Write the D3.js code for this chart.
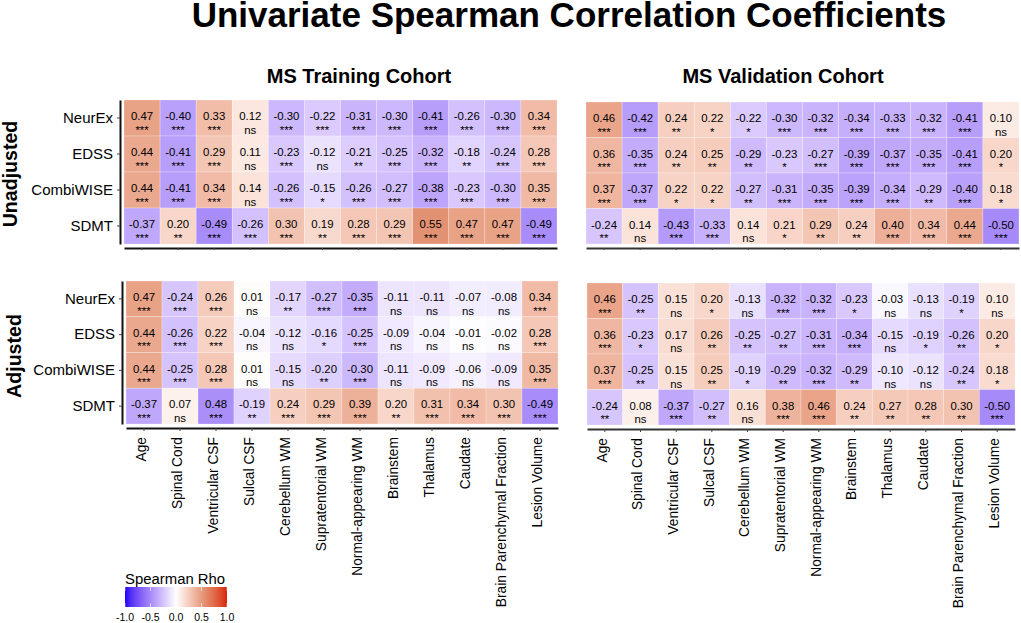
<!DOCTYPE html>
<html>
<head>
<meta charset="utf-8">
<script src="https://d3js.org/d3.v7.min.js"></script>
<style>
  body { margin: 0; background: #fff; }
  text { font-family: "Liberation Sans", Arial, sans-serif; fill: #000; }
  .domain { stroke: #111; stroke-width: 2px; }
  .tick line { stroke: #444; }
</style>
</head>
<body>
<div id="chart"></div>
<script>
var outcomes = ["NeurEx", "EDSS", "CombiWISE", "SDMT"];
var regions = ["Age", "Spinal Cord", "Ventricular CSF", "Sulcal CSF", "Cerebellum WM", "Supratentorial WM",
  "Normal-appearing WM", "Brainstem", "Thalamus", "Caudate", "Brain Parenchymal Fraction", "Lesion Volume"];
var legendTicks = [-1, -0.5, 0, 0.5, 1];

var trainRaw = [
  [0.47, -0.40, 0.33, 0.12, -0.30, -0.22, -0.31, -0.30, -0.41, -0.26, -0.30, 0.34],
  [0.44, -0.41, 0.29, 0.11, -0.23, -0.12, -0.21, -0.25, -0.32, -0.18, -0.24, 0.28],
  [0.44, -0.41, 0.34, 0.14, -0.26, -0.15, -0.26, -0.27, -0.38, -0.23, -0.30, 0.35],
  [-0.37, 0.20, -0.49, -0.26, 0.30, 0.19, 0.28, 0.29, 0.55, 0.47, 0.47, -0.49]];
var trainRawSig = [
  ["***", "***", "***", "ns", "***", "***", "***", "***", "***", "***", "***", "***"],
  ["***", "***", "***", "ns", "***", "ns", "**", "***", "***", "**", "***", "***"],
  ["***", "***", "***", "ns", "***", "*", "***", "***", "***", "***", "***", "***"],
  ["***", "**", "***", "***", "***", "**", "***", "***", "***", "***", "***", "***"]];

var validRaw = [
  [0.46, -0.42, 0.24, 0.22, -0.22, -0.30, -0.32, -0.34, -0.33, -0.32, -0.41, 0.10],
  [0.36, -0.35, 0.24, 0.25, -0.29, -0.23, -0.27, -0.39, -0.37, -0.35, -0.41, 0.20],
  [0.37, -0.37, 0.22, 0.22, -0.27, -0.31, -0.35, -0.39, -0.34, -0.29, -0.40, 0.18],
  [-0.24, 0.14, -0.43, -0.33, 0.14, 0.21, 0.29, 0.24, 0.40, 0.34, 0.44, -0.50]];
var validRawSig = [
  ["***", "***", "**", "*", "*", "***", "***", "***", "***", "***", "***", "ns"],
  ["***", "***", "**", "**", "**", "*", "***", "***", "***", "***", "***", "*"],
  ["***", "***", "*", "*", "**", "***", "***", "***", "***", "**", "***", "*"],
  ["**", "ns", "***", "***", "ns", "*", "**", "**", "***", "***", "***", "***"]];

// -0.48 is printed without its minus sign in the figure, see printedAs
var trainAdj = [
  [0.47, -0.24, 0.26, 0.01, -0.17, -0.27, -0.35, -0.11, -0.11, -0.07, -0.08, 0.34],
  [0.44, -0.26, 0.22, -0.04, -0.12, -0.16, -0.25, -0.09, -0.04, -0.01, -0.02, 0.28],
  [0.44, -0.25, 0.28, 0.01, -0.15, -0.20, -0.30, -0.11, -0.09, -0.06, -0.09, 0.35],
  [-0.37, 0.07, -0.48, -0.19, 0.24, 0.29, 0.39, 0.20, 0.31, 0.34, 0.30, -0.49]];
var trainAdjSig = [
  ["***", "***", "***", "ns", "**", "***", "***", "ns", "ns", "ns", "ns", "***"],
  ["***", "***", "***", "ns", "ns", "*", "***", "ns", "ns", "ns", "ns", "***"],
  ["***", "***", "***", "ns", "ns", "**", "***", "ns", "ns", "ns", "ns", "***"],
  ["***", "ns", "***", "**", "***", "***", "***", "**", "***", "***", "***", "***"]];
var printedAs = {"-0.48": "0.48"};

var validAdj = [
  [0.46, -0.25, 0.15, 0.20, -0.13, -0.32, -0.32, -0.23, -0.03, -0.13, -0.19, 0.10],
  [0.36, -0.23, 0.17, 0.26, -0.25, -0.27, -0.31, -0.34, -0.15, -0.19, -0.26, 0.20],
  [0.37, -0.25, 0.15, 0.25, -0.19, -0.29, -0.32, -0.29, -0.10, -0.12, -0.24, 0.18],
  [-0.24, 0.08, -0.37, -0.27, 0.16, 0.38, 0.46, 0.24, 0.27, 0.28, 0.30, -0.50]];
var validAdjSig = [
  ["***", "**", "ns", "*", "ns", "***", "***", "*", "ns", "ns", "*", "ns"],
  ["***", "*", "ns", "**", "**", "**", "***", "***", "ns", "*", "**", "*"],
  ["***", "**", "ns", "**", "*", "**", "***", "**", "ns", "ns", "**", "*"],
  ["**", "ns", "***", "**", "ns", "***", "***", "**", "**", "**", "**", "***"]];

var width = 1021, height = 623;
var svg = d3.select("#chart").append("svg").attr("width", width).attr("height", height).style("display", "block");

var color = d3.scaleLinear().domain([-1, -0.5, 0, 0.55, 1])
  .range(["#1a00f5", "#a68af9", "#ffffff", "#e29273", "#d8200f"])
  .interpolate(d3.interpolateLab)
  .clamp(true);

svg.append("text").attr("x", 569).attr("y", 27).attr("text-anchor", "middle")
  .style("font-size", "35px").style("font-weight", "bold")
  .text("Univariate Spearman Correlation Coefficients");

svg.append("text").attr("x", 359).attr("y", 83).attr("text-anchor", "middle")
  .style("font-size", "20px").style("font-weight", "bold").text("MS Training Cohort");
svg.append("text").attr("x", 783).attr("y", 83).attr("text-anchor", "middle")
  .style("font-size", "20px").style("font-weight", "bold").text("MS Validation Cohort");

svg.append("text").attr("transform", "translate(17,174) rotate(-90)").attr("text-anchor", "middle")
  .style("font-size", "19.6px").style("font-weight", "bold").text("Unadjusted");
svg.append("text").attr("transform", "translate(21,356) rotate(-90)").attr("text-anchor", "middle")
  .style("font-size", "19.6px").style("font-weight", "bold").text("Adjusted");

function heatmap(vals, sig, x0, x1, y0, y1, showY, showX, axisColor){
  var x = d3.scaleBand().domain(regions).range([x0, x1]);
  var y = d3.scaleBand().domain(outcomes).range([y0, y1]);
  var g = svg.append("g");

  outcomes.forEach(function(o, i){
    regions.forEach(function(r, j){
      var v = vals[i][j];
      var txt = v.toFixed(2);
      g.append("rect").attr("x", x(r)).attr("y", y(o))
        .attr("width", x.bandwidth()).attr("height", y.bandwidth())
        .attr("fill", color(v)).attr("stroke", "#fff").attr("stroke-opacity", 0.35).attr("stroke-width", 0.7);
      g.append("text").attr("x", x(r) + x.bandwidth() / 2).attr("y", y(o) + 20)
        .attr("text-anchor", "middle").style("font-size", "11.4px")
        .text(printedAs[txt] || txt);
      g.append("text").attr("x", x(r) + x.bandwidth() / 2).attr("y", y(o) + 33.5)
        .attr("text-anchor", "middle").style("font-size", "11.4px")
        .text(sig[i][j]);
    });
  });

  var ax = g.append("g").attr("transform", "translate(0," + (y1 + 4) + ")")
    .call(d3.axisBottom(x).tickSize(showX ? 3 : 2).tickSizeOuter(0).tickFormat(showX ? null : ""));
  ax.select(".domain").style("stroke", axisColor);
  ax.selectAll(".tick text")
    .attr("transform", "rotate(-90)").attr("text-anchor", "end")
    .attr("x", -9).attr("y", -2.5).attr("dy", "0.32em")
    .style("font-size", "13.8px").style("font-family", '"Liberation Sans", Arial, sans-serif');

  if (showY) {
    var ay = g.append("g").attr("transform", "translate(" + (x0 - 4) + ",0)")
      .call(d3.axisLeft(y).tickSize(3).tickSizeOuter(0));
    ay.selectAll(".tick text").attr("x", -7)
      .style("font-size", "15px").style("font-family", '"Liberation Sans", Arial, sans-serif');
  }
}

heatmap(trainRaw, trainRawSig, 124, 557, 100, 244, true, false, "#111");
heatmap(validRaw, validRawSig, 586, 1019, 102, 244, false, false, "#333");
heatmap(trainAdj, trainAdjSig, 126, 558, 281, 424, true, true, "#111");
heatmap(validAdj, validAdjSig, 587, 1015, 283, 425, false, true, "#333");

// colour bar
var lx = d3.scaleLinear().domain([-1, 1]).range([125, 227]);
var grad = svg.append("defs").append("linearGradient").attr("id", "rho");
d3.range(-1, 1.001, 0.1).forEach(function(t){
  grad.append("stop").attr("offset", (t + 1) / 2).attr("stop-color", color(t));
});
svg.append("text").attr("x", 125).attr("y", 584).style("font-size", "14.9px").text("Spearman Rho");
svg.append("rect").attr("x", 125).attr("y", 587).attr("width", 102).attr("height", 20).attr("fill", "url(#rho)");
legendTicks.forEach(function(t){
  svg.append("line").attr("x1", lx(t)).attr("x2", lx(t)).attr("y1", 587).attr("y2", 591).attr("stroke", "#fff").attr("stroke-width", 0.6);
  svg.append("line").attr("x1", lx(t)).attr("x2", lx(t)).attr("y1", 603).attr("y2", 607).attr("stroke", "#fff").attr("stroke-width", 0.6);
  svg.append("text").attr("x", lx(t)).attr("y", 621).attr("text-anchor", "middle")
    .style("font-size", "10.5px").text(t.toFixed(1));
});
</script>
</body>
</html>
